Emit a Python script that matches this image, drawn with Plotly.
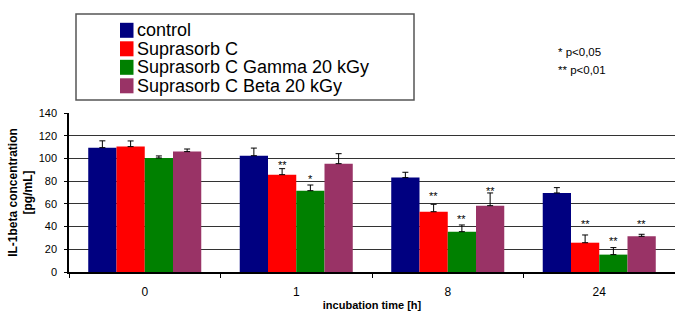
import plotly.graph_objects as go

# ---------------- data ----------------
categories = ["0", "1", "8", "24"]
series_names = ["control", "Suprasorb C", "Suprasorb C Gamma 20 kGy", "Suprasorb C Beta 20 kGy"]
series_colors = ["#000080", "#FF0000", "#008000", "#993366"]

control = [109.5, 102.4, 83.1, 69.6]
suprasorb = [110.4, 85.7, 53.1, 25.8]
gamma = [100.4, 71.6, 35.5, 15.3]
beta = [106.0, 95.4, 58.4, 31.4]

control_err = [6.0, 6.7, 4.7, 4.7]
suprasorb_err = [5.0, 5.3, 6.5, 6.8]
gamma_err = [1.8, 5.0, 5.9, 6.2]
beta_err = [2.3, 8.8, 11.2, 1.8]

values = [control, suprasorb, gamma, beta]
errors = [control_err, suprasorb_err, gamma_err, beta_err]

# significance marks: (category index, series index, label, height)
sig_category = [1, 1, 2, 2, 2, 3, 3, 3]
sig_series = [1, 2, 1, 2, 3, 1, 2, 3]
sig_label = ["**", "*", "**", "**", "**", "**", "**", "**"]
sig_height = [96.0, 83.4, 69.0, 48.4, 73.1, 44.3, 29.1, 44.3]

p_notes = ["* p<0,05", "** p<0,01"]

y_title = "IL-1beta concentration<br>[pg/mL]"
x_title = "incubation time [h]"

# ---------------- layout helpers ----------------
W, H = 675, 311
L, R, T, B = 69, 675, 113, 272
FONT = "Liberation Sans, Arial, sans-serif"


def px(x):
    return (x - L) / (R - L)


def py(y):
    return (B - y) / (B - T)


BARGAP = 0.254
n_series = len(series_names)
bar_w = (1 - BARGAP) / n_series

fig = go.Figure()
for name, color, vals, errs in zip(series_names, series_colors, values, errors):
    fig.add_trace(go.Bar(
        x=categories, y=vals, name=name, marker=dict(color=color, line=dict(width=0)),
        error_y=dict(type="data", array=errs, arrayminus=[0] * len(errs), symmetric=False,
                     color="#000000", thickness=1, width=3),
        showlegend=False,
    ))

annotations = []
for c, s, lab, h in zip(sig_category, sig_series, sig_label, sig_height):
    xpos = c - (1 - BARGAP) / 2 + bar_w * (s + 0.5)
    annotations.append(dict(x=xpos, y=h, xref="x", yref="y", text=lab, showarrow=False,
                            xanchor="center", yanchor="middle", yshift=-2,
                            font=dict(family=FONT, size=11, color="#000")))

# legend (box + entries)
shapes = [dict(type="rect", xref="paper", yref="paper", x0=px(76), x1=px(414), y0=py(100), y1=py(14),
               line=dict(color="#555555", width=1.5), fillcolor="white", layer="above")]
for i, (name, color) in enumerate(zip(series_names, series_colors)):
    cy = 30.3 + 18.5 * i
    shapes.append(dict(type="rect", xref="paper", yref="paper", x0=px(120), x1=px(133.5),
                       y0=py(cy + 7.5), y1=py(cy - 7.5), line=dict(width=0), fillcolor=color, layer="above"))
    annotations.append(dict(x=px(135), y=py(cy), xref="paper", yref="paper", text=name, showarrow=False,
                            xanchor="left", yanchor="middle",
                            font=dict(family=FONT, size=18, color="#000")))

for i, note in enumerate(p_notes):
    annotations.append(dict(x=px(556), y=py(52 + 17.5 * i), xref="paper", yref="paper", text=note,
                            showarrow=False, xanchor="left", yanchor="middle",
                            font=dict(family=FONT, size=11.5, color="#000")))

fig.update_layout(
    width=W, height=H,
    margin=dict(l=L, r=W - R, t=T, b=H - B, pad=0),
    paper_bgcolor="white", plot_bgcolor="white",
    barmode="group", bargap=BARGAP, bargroupgap=0,
    showlegend=False,
    font=dict(family=FONT, color="#000"),
    shapes=shapes, annotations=annotations,
)
fig.update_yaxes(
    range=[0, 140], dtick=20, tick0=0, showgrid=True, gridcolor="#333333", gridwidth=1,
    showline=True, linecolor="#000", linewidth=1.5, ticks="outside", ticklen=3, tickcolor="#000",
    tickfont=dict(family=FONT, size=11, color="#000"), ticklabelstandoff=5,
    zeroline=False, automargin=False,
    title=dict(text="<b>" + y_title + "</b>", font=dict(family=FONT, size=12, color="#000"), standoff=3),
)
fig.update_xaxes(
    showline=True, linecolor="#000", linewidth=1.5, ticks="outside", ticklen=4, tickcolor="#000",
    tickson="boundaries", tickfont=dict(family=FONT, size=12, color="#000"), ticklabelstandoff=8,
    automargin=False, showgrid=False,
    title=dict(text="<b>" + x_title + "</b>", font=dict(family=FONT, size=11, color="#000"), standoff=5),
)

fig.write_html("out.html", config={"displayModeBar": False},
               post_script="document.body.style.margin='0px';document.body.style.overflow='hidden';")
